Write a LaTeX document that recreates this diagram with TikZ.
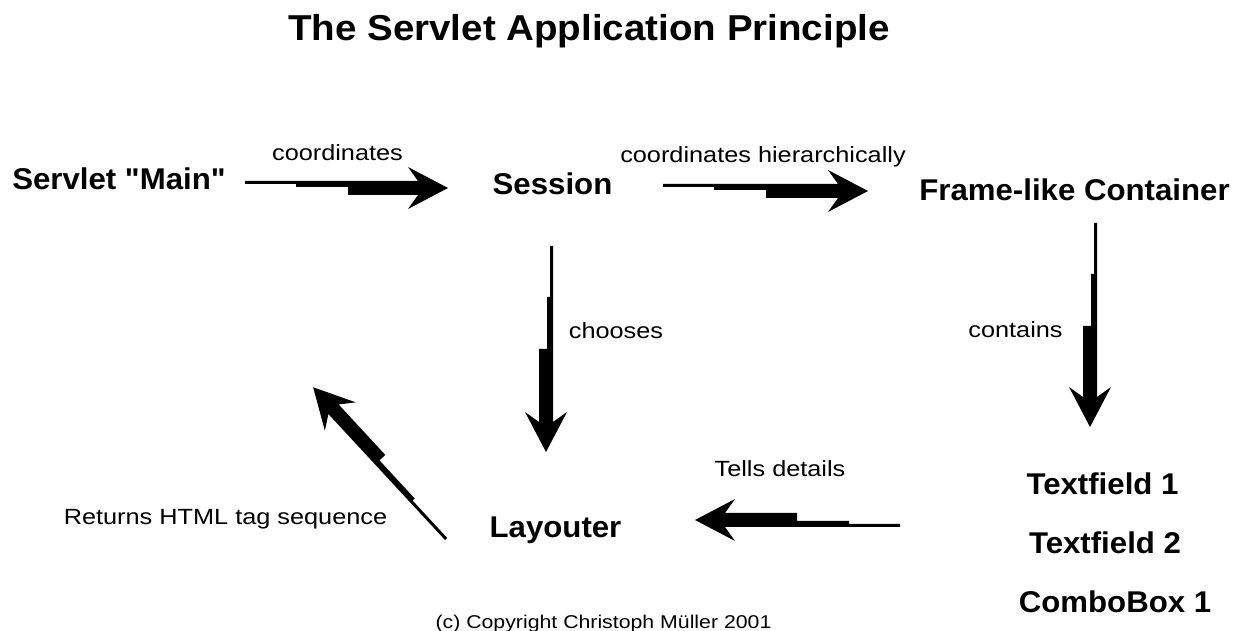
\documentclass[tikz,border=0pt]{standalone}
\usepackage{fontspec}
\usetikzlibrary{calc}
\newfontfamily\headfont[FakeStretch=1.07]{Liberation Sans}
\newfontfamily\partfont[FakeStretch=1.04]{Liberation Sans}
\newfontfamily\verbfont[FakeStretch=1.15]{Liberation Sans}

\tikzset{
  heading/.style={inner sep=0pt, anchor=base, font=\headfont\bfseries\fontsize{36}{40}\selectfont},
  part/.style={inner sep=0pt, anchor=base, font=\partfont\bfseries\fontsize{30}{34}\selectfont},
  verb/.style={inner sep=0pt, anchor=base, font=\verbfont\fontsize{22}{26}\selectfont},
  credit/.style={inner sep=0pt, anchor=base, font=\verbfont\fontsize{18.5}{22}\selectfont}
}

\newcommand{\steparrow}[2]{%
  \path let \p1=($(#2)-(#1)$) in
    \pgfextra{\pgfmathsetmacro\arrang{atan2(\y1,\x1)}\global\let\arrang\arrang
              \pgfmathsetmacro\arrlen{veclen(\x1,\y1)}\global\let\arrlen\arrlen};
  \fill[black, shift={(#1)}, rotate=\arrang]
    (0,0) -- (\arrlen-30,0) -- (\arrlen-40,14) -- (\arrlen,-7) -- (\arrlen-40,-28)
    -- (\arrlen-30,-14) -- (103,-14) -- (103,-6) -- (51,-6) -- (51,-3) -- (0,-3) -- cycle;
}

\begin{document}
\begin{tikzpicture}[x=1pt, y=1pt]
  \useasboundingbox (0,0) rectangle (1242,631);
  \node[heading] (title) at (589,590) {The Servlet Application Principle};

  \node[part] (main) at (119,441.5) {Servlet "Main"};
  \node[part] (session) at (552.5,436) {Session};
  \node[part] (frame) at (1074.5,430) {Frame-like Container};
  \node[part] (layouter) at (555.5,93) {Layouter};
  \node[part] (field1) at (1102.5,136) {Textfield 1};
  \node[part] (field2) at (1105,77) {Textfield 2};
  \node[part] (combo) at (1115,18) {ComboBox 1};

  \node[verb] (coord) at (337.5,470) {coordinates};
  \node[verb] (hier) at (763,468) {coordinates hierarchically};
  \node[verb] (choose) at (616,292.7) {chooses};
  \node[verb] (contain) at (1015.5,293) {contains};
  \node[verb] (tell) at (780,154) {Tells details};
  \node[verb] (return) at (225.5,106) {Returns HTML tag sequence};
  \node[credit] (copy) at (603.5,2) {(c) Copyright Christoph Müller 2001};

  \coordinate (main-out) at (245,450);
  \coordinate (session-in) at (448,450);
  \coordinate (session-out) at (663,447);
  \coordinate (frame-in) at (868,447);
  \coordinate (session-down) at (553,385);
  \coordinate (layouter-in) at (553,179);
  \coordinate (frame-down) at (1097,408);
  \coordinate (fields-in) at (1097,204);
  \coordinate (fields-out) at (900,104);
  \coordinate (layouter-right) at (695,104);
  \coordinate (layouter-out) at (445,91);
  \coordinate (main-back) at (308,239);

  \foreach \a/\b in {main-out/session-in, session-out/frame-in, session-down/layouter-in,
      frame-down/fields-in, fields-out/layouter-right, layouter-out/main-back}
    \steparrow{\a}{\b};
\end{tikzpicture}
\end{document}
